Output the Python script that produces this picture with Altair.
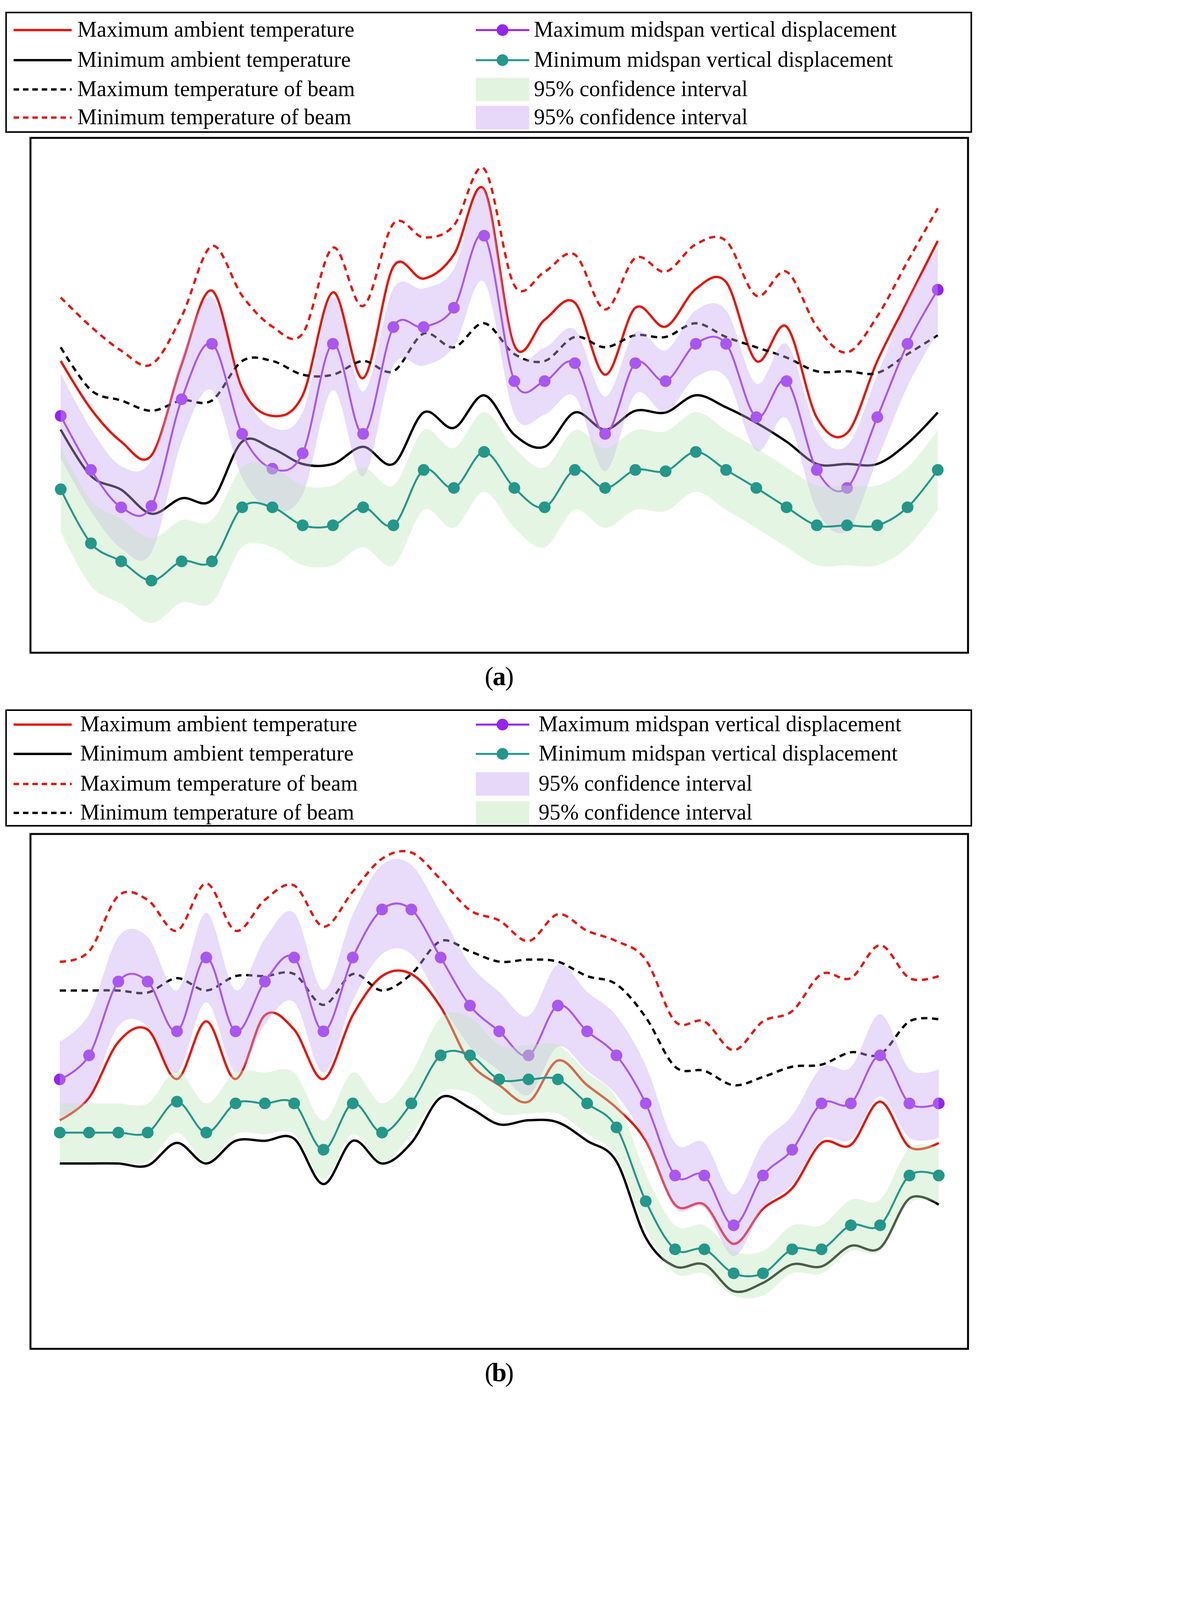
import pandas as pd
import altair as alt

FONT = "Liberation Serif"
RED = "#e8150c"
PURPLE = "#9424ee"
TEAL = "#23978a"
BAND_P = "#c9a6f2"
BAND_G = "#bfe6b8"

# ---- panel (a): June ----
DATES_A = [f"6-{d}" for d in range(1, 31)]
A_MAX_AMB = [27, 24.2, 22.3, 21.5, 26.8, 31.1, 25.4, 23.8, 25, 31, 26, 32.5, 31.8, 33.2, 37, 27.9,
             29.4, 30.4, 26.2, 30.1, 29, 31.2, 31.6, 27, 29, 23.7, 22.8, 27, 30.5, 34]
A_MIN_AMB = [23, 20.3, 19.5, 18.1, 19, 18.9, 22.3, 21.9, 21, 21, 22, 21, 24, 23.1, 25, 22.7,
             22, 24, 23, 24.1, 24, 25, 24.3, 23.4, 22.3, 21, 21, 21, 22.2, 24]
A_BEAM_MAX = [27.8, 25.3, 24.7, 24.1, 24.7, 24.7, 27, 27, 26.2, 26.2, 27, 26.4, 28.6, 27.8, 29.2,
              27.4, 27, 28.4, 27.8, 28.5, 28.4, 29.2, 28.4, 27.8, 27.2, 26.4, 26.4, 26.3, 27.4, 28.5]
A_BEAM_MIN = [30.7, 29, 27.6, 26.8, 29.6, 33.7, 30.8, 29, 28.6, 33.6, 30.2, 35, 34.2, 34.9, 38.2,
              31.4, 32.2, 33.2, 30, 33, 32.2, 33.8, 34, 30.8, 32.2, 29, 27.5, 29.6, 32.8, 35.9]
A_DISP_MAX = [58.4, 54.2, 51.3, 51.4, 59.7, 64, 57, 54.3, 55.5, 64, 57, 65.3, 65.3, 66.8, 72.4,
              61.1, 61.1, 62.5, 57, 62.5, 61.1, 64, 64, 58.3, 61.1, 54.2, 52.8, 58.3, 64, 68.2]
A_DISP_MIN = [52.7, 48.5, 47.1, 45.6, 47.1, 47.1, 51.3, 51.3, 49.9, 49.9, 51.3, 49.9, 54.2, 52.8,
              55.6, 52.8, 51.3, 54.2, 52.8, 54.2, 54.1, 55.6, 54.2, 52.8, 51.3, 49.9, 49.9, 49.9, 51.3, 54.2]
A_CI_MAX = [3.3, 3.2, 3.2, 3.6, 3.3, 3.6, 3.4, 3.2, 3.2, 3.6, 3.3, 3, 3, 3, 3.6, 2.6, 2.6, 2.6,
            2.9, 2.4, 2.4, 2.6, 2.6, 2.6, 2.9, 3.1, 3.3, 3.3, 3.3, 3.3]
A_CI_MIN = [3.3, 3.3, 3.3, 3.3, 3.2, 3.2, 3.1, 3.1, 3.1, 3.1, 3.1, 3.1, 3.1, 3.1, 3.1, 3.1, 3.1,
            3.1, 3.1, 3.1, 3.1, 3.1, 3.1, 3.1, 3.1, 3.1, 3.1, 3.1, 3.1, 3.1]

# ---- panel (b): January ----
DATES_B = [f"1-{d}" for d in range(1, 32)]
B_MAX_AMB = [11.1, 12.2, 14.9, 15.5, 13.1, 15.9, 13.1, 16.2, 15.5, 13.1, 16.2, 18.1, 18.2, 16.6,
             13.9, 12.8, 12, 14, 12.8, 11.7, 10.1, 7, 7, 5.1, 6.8, 7.8, 10, 9.9, 12, 9.8, 10]
B_MIN_AMB = [9, 9, 9, 8.9, 10, 9, 10.1, 10.1, 10.2, 8, 10.1, 9, 10, 12.2, 11.7, 10.9, 11.1, 11,
             10.1, 9.1, 5.4, 4, 4.1, 2.8, 3.2, 4.1, 4, 5, 4.9, 7.3, 7]
B_BEAM_MAX = [18.8, 19.3, 22, 21.8, 20.3, 22.6, 20.3, 21.8, 22.5, 20.5, 22.2, 23.8, 24.1, 22.8,
              21.3, 20.8, 19.8, 21.1, 20.3, 19.8, 18.9, 15.9, 15.9, 14.5, 15.9, 16.4, 18.2, 18,
              19.6, 18, 18.1]
B_BEAM_MIN = [17.4, 17.4, 17.4, 17.3, 18, 17.4, 18.1, 18.1, 18.2, 16.7, 18.2, 17.4, 18.2, 19.8,
              19.3, 18.8, 18.9, 18.8, 18.1, 17.7, 16.1, 13.7, 13.5, 12.8, 13.2, 13.7, 13.8, 14.4,
              14.3, 15.9, 16]
B_DISP_MAX = [35.7, 37.1, 41.4, 41.4, 38.5, 42.8, 38.5, 41.4, 42.8, 38.5, 42.8, 45.6, 45.6, 42.8,
              40, 38.5, 37.1, 40, 38.5, 37.1, 34.3, 30.1, 30.1, 27.2, 30.1, 31.6, 34.3, 34.3,
              37.1, 34.3, 34.3]
B_DISP_MIN = [32.6, 32.6, 32.6, 32.6, 34.4, 32.6, 34.3, 34.3, 34.3, 31.6, 34.3, 32.6, 34.3, 37.1,
              37.1, 35.7, 35.7, 35.7, 34.3, 32.9, 28.6, 25.8, 25.8, 24.4, 24.4, 25.8, 25.8, 27.2,
              27.2, 30.1, 30.1]
B_CI_MAX = [2.2, 2.4, 2.6, 2.6, 2.4, 2.6, 2.4, 2.5, 2.6, 2.4, 2.5, 2.6, 2.6, 2.6, 2.4, 2.3, 2.3,
            2.4, 2.3, 2.3, 2.2, 1.9, 1.9, 1.8, 1.9, 2, 2.1, 2.1, 2.4, 2, 2]
B_CI_MIN = [1.7, 1.7, 1.7, 1.7, 1.8, 1.7, 1.8, 1.8, 1.8, 1.7, 1.8, 1.7, 1.8, 2.2, 2.2, 2, 2, 2,
            1.8, 1.7, 1.6, 1.4, 1.4, 1.3, 1.3, 1.4, 1.4, 1.5, 1.5, 1.6, 1.6]

W, H = 2400, 1318


def xenc(dates, axis=True):
    if axis:
        ax = alt.Axis(title="Date", labelAngle=-55, labelFontSize=58, titleFontSize=80,
                      titleFontWeight="normal", titlePadding=30, tickSize=20, tickWidth=5,
                      domainWidth=5, domainColor="black", tickColor="black", labelPadding=8)
        return alt.X("date:N", sort=dates, scale=alt.Scale(type="point", padding=1), axis=ax)
    return alt.X("date:N", sort=dates, scale=alt.Scale(type="point", padding=1), axis=None)


def panel(dates, tmax, tmin, bmax, bmin, dmax, dmin, cimax, cimin,
          tdom, ddom, beam_max_col, beam_min_col, band_max_col, band_min_col):
    df = pd.DataFrame({"date": dates, "tmax": tmax, "tmin": tmin, "bmax": bmax, "bmin": bmin,
                       "dmax": dmax, "dmin": dmin})
    df["dmax_lo"] = [v - c for v, c in zip(dmax, cimax)]
    df["dmax_hi"] = [v + c for v, c in zip(dmax, cimax)]
    df["dmin_lo"] = [v - c for v, c in zip(dmin, cimin)]
    df["dmin_hi"] = [v + c for v, c in zip(dmin, cimin)]
    base = alt.Chart(df)
    yt_axis = alt.Axis(title="Temperature (°C)", titleFontSize=80, titleFontWeight="normal",
                       labelFontSize=62, tickSize=20, tickWidth=5, domainWidth=5,
                       domainColor="black", tickColor="black", grid=False, tickCount=6)

    def yt(f, axis):
        if axis:
            return alt.Y(f"{f}:Q", scale=alt.Scale(domain=tdom), axis=yt_axis)
        return alt.Y(f"{f}:Q", scale=alt.Scale(domain=tdom), axis=None)

    def tline(f, color, dash=None, axis=False):
        kw = dict(color=color, strokeWidth=6, interpolate="cardinal")
        if dash:
            kw["strokeDash"] = dash
        return base.mark_line(**kw).encode(x=xenc(dates, axis), y=yt(f, axis))

    temp = alt.layer(
        tline("tmax", RED, axis=True),
        tline("tmin", "black"),
        tline("bmax", beam_max_col, [16, 12]),
        tline("bmin", beam_min_col, [16, 12]),
    )

    yd_axis = alt.Axis(title="Displacement (mm)", orient="right", titleFontSize=80,
                       titleFontWeight="normal", labelFontSize=62, tickSize=20, tickWidth=5,
                       domainWidth=5, domainColor="black", tickColor="black", grid=False,
                       tickCount=8)
    ysc = alt.Scale(domain=ddom)

    def band(lo, hi, color):
        return base.mark_area(color=color, opacity=0.4, interpolate="cardinal").encode(
            x=xenc(dates, False), y=alt.Y(f"{lo}:Q", scale=ysc, axis=None), y2=f"{hi}:Q")

    def dline(f, color, axis=False):
        if axis:
            y = alt.Y(f"{f}:Q", scale=ysc, axis=yd_axis)
        else:
            y = alt.Y(f"{f}:Q", scale=ysc, axis=None)
        return alt.layer(
            base.mark_line(color=color, strokeWidth=5, interpolate="cardinal").encode(
                x=xenc(dates, False), y=y),
            base.mark_point(color=color, filled=True, size=900, opacity=1).encode(
                x=xenc(dates, False), y=alt.Y(f"{f}:Q", scale=ysc, axis=None)),
        )

    disp = alt.layer(
        dline("dmax", PURPLE, axis=True),
        band("dmax_lo", "dmax_hi", band_max_col),
        band("dmin_lo", "dmin_hi", band_min_col),
        dline("dmin", TEAL),
    )
    return alt.layer(temp, disp).resolve_scale(y="independent").properties(
        width=W, height=H, view=alt.ViewBackground(stroke="black", strokeWidth=5))


def legend(left, right, rows, box, height, textx_left, textx_right):
    xs = alt.Scale(domain=[0, 1], range=[0, W])
    ys = alt.Scale(domain=[0, height], range=[0, height])
    layers = [alt.Chart(pd.DataFrame({"x": [-0.026], "x2": [1.0035], "y": [box[0]], "y2": [box[1]]}))
              .mark_rect(fill="white", stroke="black", strokeWidth=4)
              .encode(x=alt.X("x:Q", scale=xs, axis=None), x2="x2",
                      y=alt.Y("y:Q", scale=ys, axis=None), y2="y2")]
    for (lab, col, dash), yy in zip(left, rows):
        d = pd.DataFrame({"x": [-0.018], "x2": [0.044], "y": [yy], "lab": [lab], "tx": [textx_left]})
        kw = dict(color=col, strokeWidth=6)
        if dash:
            kw["strokeDash"] = [14, 10]
        layers.append(alt.Chart(d).mark_rule(**kw).encode(
            x=alt.X("x:Q", scale=xs, axis=None), x2="x2", y=alt.Y("y:Q", scale=ys, axis=None)))
        layers.append(alt.Chart(d).mark_text(align="left", baseline="middle", fontSize=56,
                                             font=FONT).encode(
            x=alt.X("tx:Q", scale=xs, axis=None), y=alt.Y("y:Q", scale=ys, axis=None), text="lab"))
    for (lab, kind, col), yy in zip(right, rows):
        d = pd.DataFrame({"x": [0.475], "x2": [0.532], "xm": [0.5035], "y": [yy], "ylo": [yy - 30],
                          "yhi": [yy + 30], "lab": [lab], "tx": [textx_right]})
        if kind == "line":
            layers.append(alt.Chart(d).mark_rule(color=col, strokeWidth=5).encode(
                x=alt.X("x:Q", scale=xs, axis=None), x2="x2", y=alt.Y("y:Q", scale=ys, axis=None)))
            layers.append(alt.Chart(d).mark_point(color=col, filled=True, size=900, opacity=1).encode(
                x=alt.X("xm:Q", scale=xs, axis=None), y=alt.Y("y:Q", scale=ys, axis=None)))
        else:
            layers.append(alt.Chart(d).mark_rect(color=col, opacity=0.45).encode(
                x=alt.X("x:Q", scale=xs, axis=None), x2="x2",
                y=alt.Y("ylo:Q", scale=ys, axis=None), y2="yhi"))
        layers.append(alt.Chart(d).mark_text(align="left", baseline="middle", fontSize=56,
                                             font=FONT).encode(
            x=alt.X("tx:Q", scale=xs, axis=None), y=alt.Y("y:Q", scale=ys, axis=None), text="lab"))
    return alt.layer(*layers).properties(width=W, height=height)


def caption(letter):
    xs = alt.Scale(domain=[-W / 2, W / 2])
    paren = alt.Chart(pd.DataFrame({"t": ["(", ")"], "x": [-26, 26]})).mark_text(
        fontSize=68, font=FONT, baseline="middle").encode(
        x=alt.X("x:Q", scale=xs, axis=None), y=alt.value(50), text="t:N")
    let = alt.Chart(pd.DataFrame({"t": [letter], "x": [0]})).mark_text(
        fontSize=68, font=FONT, fontWeight="bold", baseline="middle").encode(
        x=alt.X("x:Q", scale=xs, axis=None), y=alt.value(50), text="t:N")
    return alt.layer(paren, let).properties(width=W, height=90)


leg_a = legend(
    [("Maximum ambient temperature", RED, False), ("Minimum ambient temperature", "black", False),
     ("Maximum temperature of beam", "black", True), ("Minimum temperature of beam", RED, True)],
    [("Maximum midspan vertical displacement", "line", PURPLE),
     ("Minimum midspan vertical displacement", "line", TEAL),
     ("95% confidence interval", "rect", BAND_G), ("95% confidence interval", "rect", BAND_P)],
    [64, 141, 216, 288], (19, 325), 325, 0.05, 0.537)
plot_a = panel(DATES_A, A_MAX_AMB, A_MIN_AMB, A_BEAM_MAX, A_BEAM_MIN, A_DISP_MAX, A_DISP_MIN,
               A_CI_MAX, A_CI_MIN, [10, 40], [40, 80], "black", RED, BAND_P, BAND_G)
leg_b = legend(
    [("Maximum ambient temperature", RED, False), ("Minimum ambient temperature", "black", False),
     ("Maximum temperature of beam", RED, True), ("Minimum temperature of beam", "black", True)],
    [("Maximum midspan vertical displacement", "line", PURPLE),
     ("Minimum midspan vertical displacement", "line", TEAL),
     ("95% confidence interval", "rect", BAND_P), ("95% confidence interval", "rect", BAND_G)],
    [71, 146, 223, 297], (34, 330), 338, 0.053, 0.542)
plot_b = panel(DATES_B, B_MAX_AMB, B_MIN_AMB, B_BEAM_MAX, B_BEAM_MIN, B_DISP_MAX, B_DISP_MIN,
               B_CI_MAX, B_CI_MIN, [0, 25], [20, 50], RED, "black", BAND_P, BAND_G)

chart = alt.vconcat(leg_a, plot_a, caption("a"), leg_b, plot_b, caption("b"), spacing=10).configure(
    font=FONT).configure_view(stroke=None).configure_axis(labelFont=FONT, titleFont=FONT,
                                                           labelColor="black", titleColor="black")

chart.save("out.html", embed_options={"renderer": "svg", "actions": False})
